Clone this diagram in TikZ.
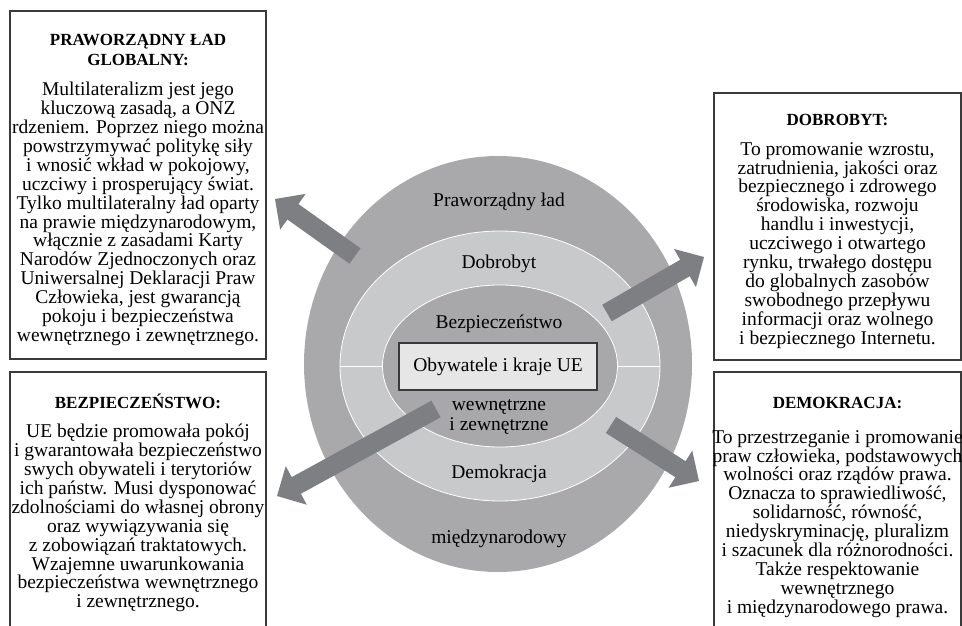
\documentclass[tikz,border=0pt]{standalone}
\usepackage{fontspec}
\setmainfont{Liberation Serif}
\usepackage{tikz}
\usetikzlibrary{arrows.meta,positioning,calc,shapes.geometric}
\definecolor{ringdark}{HTML}{A9A9AC}
\definecolor{ringlight}{HTML}{C8C9CB}
\definecolor{coredark}{HTML}{A8A8AB}
\definecolor{corefill}{HTML}{E6E6E7}
\definecolor{pushgray}{HTML}{7E7F82}
\definecolor{framegray}{HTML}{3A3A3A}

\begin{document}
\begin{tikzpicture}[x=1pt,y=-1pt,
  panel/.style={draw=framegray,line width=1.2pt,inner sep=0pt},
  head/.style={font=\bfseries\fontsize{17}{20}\selectfont,align=center,inner sep=0pt,anchor=north},
  body/.style={font=\fontsize{19.5}{18.9}\selectfont,align=center,inner sep=0pt,anchor=north},
  ring/.style={font=\fontsize{19.5}{20}\selectfont,align=center,inner sep=0pt,anchor=base},
  zone/.style={ellipse,inner sep=0pt},
  sep/.style={white,line width=0.8pt},
  push/.style={fill=pushgray}
]
\useasboundingbox (0,0) rectangle (962,626);
\clip (0,0) rectangle (962,626);

% Rings round the core
\node[zone,fill=ringdark,minimum width=388,minimum height=416] (outer) at (498,364) {};
\node[zone,fill=ringlight,draw=white,line width=0.8pt,minimum width=320,minimum height=270] (middle) at (500,366) {};
\node[zone,fill=coredark,draw=white,line width=0.8pt,minimum width=235,minimum height=162] (inner) at (500,366) {};
\draw[sep] (middle.west) -- (inner.west);
\draw[sep] (inner.east) -- (middle.east);
\node[draw=framegray,fill=corefill,line width=1.2pt,minimum width=198,minimum height=47,
  font=\fontsize{19.5}{20}\selectfont] (core) at (498,366.5) {Obywatele i kraje UE};

\node[ring] (lad) at (499,206) {Praworządny ład};
\node[ring] (dob) at (499,268) {Dobrobyt};
\node[ring] (bez) at (499,328) {Bezpieczeństwo};
\node[ring] (wz) at (499,430) {wewnętrzne\\i zewnętrzne};
\node[ring] (dem) at (499,478) {Demokracja};
\node[ring] (mn) at (499,543) {międzynarodowy};

% Block arrows out of the rings
\coordinate (globtail) at (355,256);
\coordinate (globtip) at (275,199);
\coordinate (dobrtail) at (607,313);
\coordinate (dobrtip) at (704,257);
\coordinate (bezptail) at (436,409);
\coordinate (bezptip) at (277,496);
\coordinate (demotail) at (611,425);
\coordinate (demotip) at (699,481);
\foreach \from/\to in {globtail/globtip,dobrtail/dobrtip,bezptail/bezptip,demotail/demotip}{
  \coordinate (neck) at ($(\to)!22pt!(\from)$);
  \fill[push] ($(\from)!9.5pt!90:(\to)$) -- ($(neck)!9.5pt!-90:(\from)$)
    -- ($(neck)!22pt!-90:(\from)$) -- (\to) -- ($(neck)!22pt!90:(\from)$)
    -- ($(neck)!9.5pt!90:(\from)$) -- ($(\from)!9.5pt!-90:(\to)$) -- cycle;
}

% Left panels
\node[panel,minimum width=256,minimum height=348] (globbox) at (138,185) {};
\node[head] (globhead) at (138,34) {PRAWORZĄDNY ŁAD\\GLOBALNY:};
\node[body] (globtext) at (138,82) {Multilateralizm jest jego\\kluczową zasadą, a ONZ\\rdzeniem. Poprzez niego można\\powstrzymywać politykę siły\\i wnosić wkład w pokojowy,\\uczciwy i prosperujący świat.\\Tylko multilateralny ład oparty\\na prawie międzynarodowym,\\włącznie z zasadami Karty\\Narodów Zjednoczonych oraz\\Uniwersalnej Deklaracji Praw\\Człowieka, jest gwarancją\\pokoju i bezpieczeństwa\\wewnętrznego i zewnętrznego.};

\node[panel,minimum width=256,minimum height=268] (bezpbox) at (138,506) {};
\node[head] (bezphead) at (138,394) {BEZPIECZEŃSTWO:};
\node[body] (bezptext) at (138,424) {UE będzie promowała pokój\\i gwarantowała bezpieczeństwo\\swych obywateli i terytoriów\\ich państw. Musi dysponować\\zdolnościami do własnej obrony\\oraz wywiązywania się\\z zobowiązań traktatowych.\\Wzajemne uwarunkowania\\bezpieczeństwa wewnętrznego\\i zewnętrznego.};

% Right panels
\node[panel,minimum width=247,minimum height=267] (dobrbox) at (837.5,226.5) {};
\node[head] (dobrhead) at (837.5,114) {DOBROBYT:};
\node[body] (dobrtext) at (837.5,142) {To promowanie wzrostu,\\zatrudnienia, jakości oraz\\bezpiecznego i zdrowego\\środowiska, rozwoju\\handlu i inwestycji,\\uczciwego i otwartego\\rynku, trwałego dostępu\\do globalnych zasobów\\swobodnego przepływu\\informacji oraz wolnego\\i bezpiecznego Internetu.};

\node[panel,minimum width=247,minimum height=268] (demobox) at (837.5,506) {};
\node[head] (demohead) at (837.5,397) {DEMOKRACJA:};
\node[body] (demotext) at (837.5,430) {To przestrzeganie i promowanie\\praw człowieka, podstawowych\\wolności oraz rządów prawa.\\Oznacza to sprawiedliwość,\\solidarność, równość,\\niedyskryminację, pluralizm\\i szacunek dla różnorodności.\\Także respektowanie\\wewnętrznego\\i międzynarodowego prawa.};
\end{tikzpicture}
\end{document}
